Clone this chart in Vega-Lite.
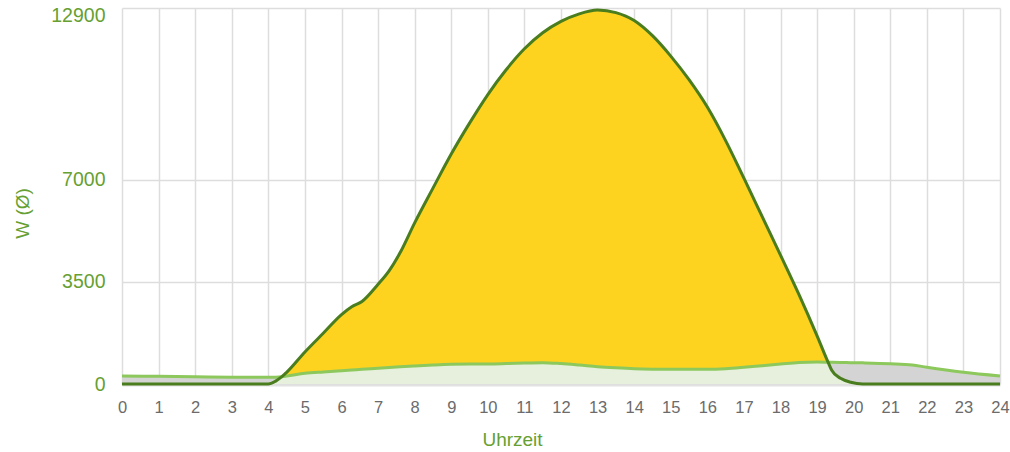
{
  "$schema": "https://vega.github.io/schema/vega-lite/v6.json",
  "width": 878,
  "height": 376,
  "autosize": "none",
  "padding": {"left": 122, "top": 8, "right": 10, "bottom": 68},
  "background": "white",
  "config": {
    "view": {"stroke": null},
    "font": "Liberation Sans"
  },
  "data": {
    "values": [
      {"h": 0, "p": 0, "c": 275, "lo": 0},
      {"h": 1, "p": 0, "c": 262, "lo": 0},
      {"h": 2, "p": 0, "c": 245, "lo": 0},
      {"h": 3, "p": 0, "c": 235, "lo": 0},
      {"h": 4, "p": 0, "c": 228, "lo": 0},
      {"h": 4.2, "p": 100, "c": 235, "lo": 100},
      {"h": 4.37, "p": 250, "c": 250, "lo": 250},
      {"h": 4.5, "p": 400, "c": 270, "lo": 270},
      {"h": 5, "p": 1100, "c": 366, "lo": 366},
      {"h": 5.5, "p": 1740, "c": 415, "lo": 415},
      {"h": 6, "p": 2380, "c": 457, "lo": 457},
      {"h": 6.28, "p": 2650, "c": 480, "lo": 480},
      {"h": 6.56, "p": 2830, "c": 505, "lo": 505},
      {"h": 7, "p": 3420, "c": 538, "lo": 538},
      {"h": 7.3, "p": 3880, "c": 563, "lo": 563},
      {"h": 7.6, "p": 4500, "c": 588, "lo": 588},
      {"h": 8, "p": 5530, "c": 617, "lo": 617},
      {"h": 8.5, "p": 6720, "c": 650, "lo": 650},
      {"h": 9, "p": 7890, "c": 676, "lo": 676},
      {"h": 9.5, "p": 8950, "c": 686, "lo": 686},
      {"h": 10, "p": 9930, "c": 686, "lo": 686},
      {"h": 10.5, "p": 10780, "c": 700, "lo": 700},
      {"h": 11, "p": 11500, "c": 720, "lo": 720},
      {"h": 11.5, "p": 12050, "c": 731, "lo": 731},
      {"h": 12, "p": 12440, "c": 700, "lo": 700},
      {"h": 12.5, "p": 12700, "c": 650, "lo": 650},
      {"h": 13, "p": 12830, "c": 594, "lo": 594},
      {"h": 13.5, "p": 12740, "c": 555, "lo": 555},
      {"h": 14, "p": 12470, "c": 525, "lo": 525},
      {"h": 14.5, "p": 11950, "c": 510, "lo": 510},
      {"h": 15, "p": 11250, "c": 504, "lo": 504},
      {"h": 15.5, "p": 10440, "c": 504, "lo": 504},
      {"h": 16, "p": 9500, "c": 504, "lo": 504},
      {"h": 16.5, "p": 8350, "c": 525, "lo": 525},
      {"h": 17, "p": 7060, "c": 573, "lo": 573},
      {"h": 17.5, "p": 5740, "c": 630, "lo": 630},
      {"h": 18, "p": 4420, "c": 686, "lo": 686},
      {"h": 18.5, "p": 3080, "c": 740, "lo": 740},
      {"h": 19, "p": 1650, "c": 755, "lo": 755},
      {"h": 19.3, "p": 748, "c": 748, "lo": 748},
      {"h": 19.4, "p": 470, "c": 745, "lo": 470},
      {"h": 19.64, "p": 196, "c": 741, "lo": 196},
      {"h": 19.92, "p": 58, "c": 733, "lo": 58},
      {"h": 20.25, "p": 0, "c": 725, "lo": 0},
      {"h": 21, "p": 0, "c": 697, "lo": 0},
      {"h": 21.6, "p": 0, "c": 652, "lo": 0},
      {"h": 22, "p": 0, "c": 573, "lo": 0},
      {"h": 23, "p": 0, "c": 401, "lo": 0},
      {"h": 24, "p": 0, "c": 274, "lo": 0}
    ]
  },
  "encoding": {
    "x": {
      "field": "h",
      "type": "quantitative",
      "scale": {"domain": [0, 24], "nice": false},
      "axis": {
        "title": "Uhrzeit",
        "values": [0,1,2,3,4,5,6,7,8,9,10,11,12,13,14,15,16,17,18,19,20,21,22,23,24],
        "format": "d",
        "grid": true,
        "gridColor": "#dddddd",
        "gridWidth": 1.5,
        "ticks": false,
        "domain": true,
        "domainColor": "#e2e2e2",
        "domainWidth": 2,
        "offset": 1,
        "labelColor": "#6b6b6b",
        "labelFontSize": 16.5,
        "labelPadding": 14,
        "labelFlush": false,
        "titleColor": "#66a032",
        "titleFontSize": 19,
        "titleFontWeight": "normal",
        "titleX": 390,
        "titleY": 54,
        "titleBaseline": "middle"
      }
    }
  },
  "layer": [
    {
      "mark": {"type": "area", "interpolate": "monotone", "color": "#e6f0dc"},
      "encoding": {
        "y": {
          "field": "lo",
          "type": "quantitative",
          "scale": {"domain": [0, 12900], "nice": false, "zero": true},
          "axis": {
            "title": "W (Ø)",
            "values": [0, 3500, 7000, 12900],
            "format": "d",
            "grid": true,
            "gridColor": "#dddddd",
            "gridWidth": 1.5,
            "ticks": false,
            "domain": false,
            "labelColor": "#66a032",
            "labelFontSize": 19.5,
            "labelPadding": 17,
            "labelOffset": {"condition": {"test": "datum.value == 12900", "value": 7}, "value": 0},
            "titleColor": "#66a032",
            "titleFontSize": 19,
            "titleFontWeight": "normal",
            "titleX": -100,
            "titleY": 205,
            "titleBaseline": "middle",
            "titleAlign": "center"
          }
        }
      }
    },
    {
      "mark": {"type": "area", "interpolate": "monotone", "color": "#fdd320"},
      "encoding": {
        "y": {"field": "p", "type": "quantitative"},
        "y2": {"field": "lo"}
      }
    },
    {
      "mark": {"type": "area", "interpolate": "monotone", "color": "#d4d4d4"},
      "encoding": {
        "y": {"field": "c", "type": "quantitative"},
        "y2": {"field": "lo"}
      }
    },
    {
      "mark": {"type": "line", "interpolate": "monotone", "color": "#8cc85c", "strokeWidth": 3},
      "encoding": {
        "y": {"field": "c", "type": "quantitative"}
      }
    },
    {
      "mark": {"type": "line", "interpolate": "monotone", "color": "#4a7d1e", "strokeWidth": 3},
      "encoding": {
        "y": {"field": "p", "type": "quantitative"}
      }
    }
  ]
}
